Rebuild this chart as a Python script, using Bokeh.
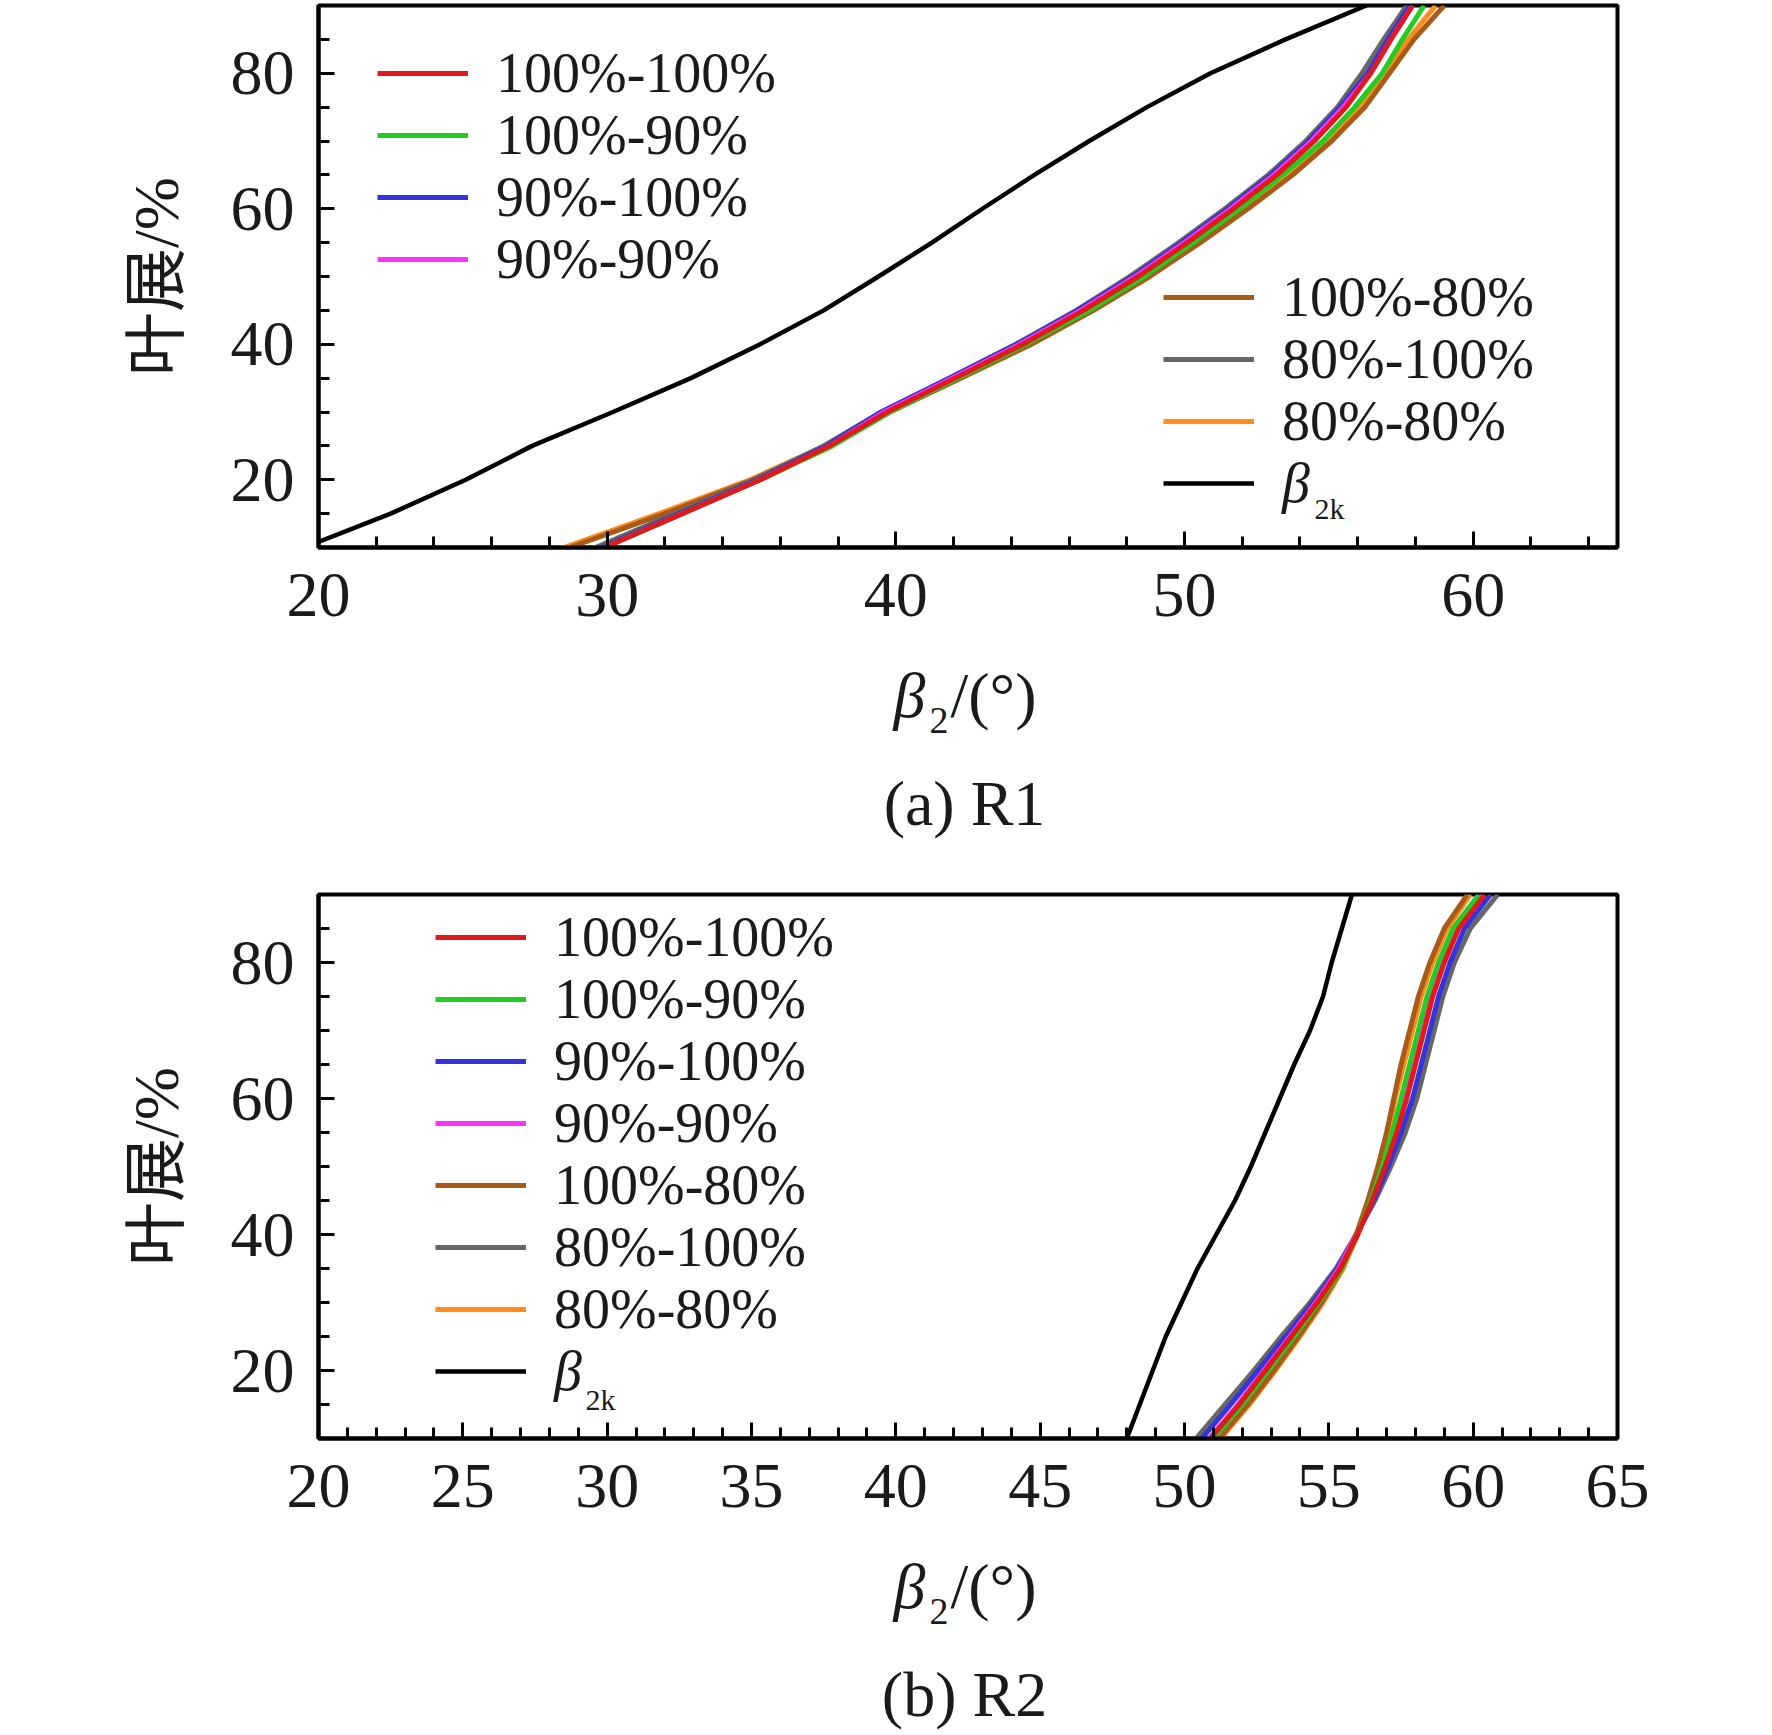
from bokeh.plotting import figure
from bokeh.layouts import column
from bokeh.models import Legend, LegendItem, Label, SingleIntervalTicker, Range1d
from bokeh.core.properties import value
from bokeh.embed import file_html
from bokeh.resources import INLINE

# spanwise position, %
span = [10, 15, 20, 25, 30, 35, 40, 45, 50, 55, 60, 65, 70, 75, 80, 85, 90]

# (a) R1, beta2 in degrees
r1_100_100 = [29.9, 32.6, 35.3, 37.7, 39.7, 42.05, 44.4, 46.5, 48.4, 50.1, 51.7, 53.2, 54.5, 55.6, 56.45, 57.15, 57.9]
r1_100_90 = [29.9, 32.6, 35.3, 37.8, 39.8, 42.15, 44.5, 46.7, 48.6, 50.3, 51.9, 53.4, 54.8, 55.9, 56.85, 57.55, 58.3]
r1_90_100 = [29.8, 32.5, 35.2, 37.6, 39.5, 41.85, 44.2, 46.3, 48.2, 49.9, 51.5, 53.0, 54.3, 55.4, 56.35, 57.05, 57.8]
r1_90_90 = [29.9, 32.6, 35.3, 37.7, 39.6, 41.95, 44.3, 46.4, 48.3, 50.0, 51.6, 53.1, 54.4, 55.5, 56.45, 57.15, 57.9]
r1_100_80 = [28.7, 32.0, 35.05, 37.65, 39.8, 42.25, 44.7, 46.85, 48.8, 50.55, 52.2, 53.75, 55.1, 56.25, 57.1, 57.95, 59.0]
r1_80_100 = [29.6, 32.35, 35.1, 37.5, 39.5, 41.85, 44.15, 46.25, 48.1, 49.8, 51.4, 52.9, 54.2, 55.3, 56.15, 56.9, 57.7]
r1_80_80 = [28.5, 31.8, 34.95, 37.55, 39.7, 42.15, 44.6, 46.75, 48.7, 50.45, 52.1, 53.65, 55.0, 56.1, 56.95, 57.75, 58.7]
r1_b2k = [19.5, 22.5, 25.1, 27.4, 30.2, 32.9, 35.3, 37.5, 39.4, 41.25, 43.0, 44.8, 46.7, 48.7, 50.9, 53.5, 56.3]

# (b) R2
r2_100_100 = [50.9, 51.9, 52.8, 53.7, 54.6, 55.4, 56.0, 56.5, 56.95, 57.35, 57.7, 58.0, 58.3, 58.6, 59.0, 59.5, 60.4]
r2_100_90 = [51.0, 52.0, 52.9, 53.8, 54.65, 55.45, 56.0, 56.45, 56.85, 57.2, 57.5, 57.8, 58.1, 58.4, 58.8, 59.3, 60.2]
r2_90_100 = [50.6, 51.6, 52.55, 53.5, 54.45, 55.3, 55.95, 56.55, 57.05, 57.5, 57.9, 58.2, 58.5, 58.8, 59.2, 59.7, 60.6]
r2_90_90 = [50.85, 51.85, 52.75, 53.65, 54.55, 55.35, 55.95, 56.45, 56.9, 57.3, 57.65, 57.95, 58.25, 58.55, 58.95, 59.45, 60.35]
r2_100_80 = [51.2, 52.2, 53.1, 53.95, 54.75, 55.45, 55.95, 56.35, 56.7, 57.0, 57.25, 57.5, 57.8, 58.1, 58.5, 59.0, 59.8]
r2_80_100 = [50.4, 51.4, 52.4, 53.35, 54.35, 55.25, 55.95, 56.6, 57.15, 57.65, 58.05, 58.35, 58.65, 58.95, 59.35, 59.9, 60.85]
r2_80_80 = [51.25, 52.25, 53.15, 54.0, 54.8, 55.5, 56.0, 56.4, 56.75, 57.05, 57.3, 57.6, 57.9, 58.2, 58.6, 59.1, 59.9]
r2_b2k = [48.0, 48.45, 48.9, 49.35, 49.9, 50.45, 51.1, 51.75, 52.3, 52.8, 53.3, 53.8, 54.35, 54.8, 55.1, 55.45, 55.8]

labels = ["100%-100%", "100%-90%", "90%-100%", "90%-90%", "100%-80%", "80%-100%", "80%-80%"]
colors = ["#e01a1a", "#22cc22", "#3333e0", "#ff33ff", "#a85a18", "#666666", "#ff8c1a"]

SERIF = "Liberation Serif"
INK = "#1a1a1a"
FS = "64px"
LEG_FS = "56px"
LEFT, FRAME_W, RIGHT = 318, 1299, 155


def base_fig(top, frame_h, x_step):
    p = figure(frame_width=FRAME_W, frame_height=frame_h,
               min_border_left=LEFT, min_border_right=RIGHT,
               min_border_top=top, min_border_bottom=108,
               x_range=Range1d(20, 65), y_range=Range1d(10, 90),
               output_backend="svg", toolbar_location=None)
    p.grid.visible = False
    p.outline_line_color = "black"
    p.outline_line_width = 4
    p.outline_line_alpha = 1
    p.xaxis.ticker = SingleIntervalTicker(interval=x_step, num_minor_ticks=5)
    p.yaxis.ticker = SingleIntervalTicker(interval=20, num_minor_ticks=4)
    for ax in p.axis:
        ax.axis_line_width = 4
        ax.axis_line_color = "black"
        ax.major_tick_in = 16
        ax.major_tick_out = 0
        ax.minor_tick_in = 11
        ax.minor_tick_out = 0
        ax.major_tick_line_width = 3
        ax.minor_tick_line_width = 3
        ax.major_label_text_font = SERIF
        ax.major_label_text_font_size = FS
        ax.major_label_text_color = INK
    p.xaxis.major_label_standoff = 26
    p.yaxis.major_label_standoff = 24
    p.yaxis.axis_label = "叶展/%"
    p.yaxis.axis_label_text_font = "Liberation Serif, Noto Sans CJK SC"
    p.yaxis.axis_label_text_font_size = FS
    p.yaxis.axis_label_text_font_style = "normal"
    p.yaxis.axis_label_text_color = INK
    p.yaxis.axis_label_standoff = 36
    return p


def legend_rows(p, entries, x, ys):
    # one legend per row so the row pitch follows the reference
    for (label, rend, italic), y in zip(entries, ys):
        p.add_layout(Legend(items=[LegendItem(label=label, renderers=[rend])],
                            location=(x, y), padding=0, margin=0, spacing=0,
                            glyph_width=91, glyph_height=40, label_height=40, label_standoff=28,
                            label_text_font=SERIF, label_text_font_size=LEG_FS, label_text_color=INK,
                            label_text_font_style="italic" if italic else "normal",
                            background_fill_alpha=0, border_line_alpha=0))


def sub_label(p, x, y, text):
    p.add_layout(Label(x=x, y=y, x_units="screen", y_units="screen", text=text,
                       text_font=SERIF, text_font_size="30px", text_color=INK,
                       text_align="left", text_baseline="middle"))


def caption_fig(h, y_title, y_sub, y_cap, caption):
    # strip under each chart holding the x title and the caption (data units = pixels)
    t = figure(frame_width=FRAME_W, frame_height=h,
               min_border_left=LEFT, min_border_right=RIGHT, min_border_top=0, min_border_bottom=0,
               x_range=Range1d(LEFT, LEFT + FRAME_W), y_range=Range1d(0, h),
               x_axis_type=None, y_axis_type=None,
               output_backend="svg", toolbar_location=None)
    t.outline_line_color = None
    common = dict(text_font=value(SERIF), text_color=INK, text_baseline="middle")
    t.text(x=[893], y=[y_title], text=["β"], text_font_size=value("64px"),
           text_font_style="italic", text_align="left", **common)
    t.text(x=[929], y=[y_sub], text=["2"], text_font_size=value("38px"),
           text_align="left", **common)
    t.text(x=[950], y=[y_title], text=["/(°)"], text_font_size=value("64px"),
           text_align="left", **common)
    t.text(x=[964], y=[y_cap], text=[caption], text_font_size=value("64px"),
           text_align="center", **common)
    return t


# ---- (a) R1 ----
p1 = base_fig(5, 542, 10)
r1 = [r1_100_100, r1_100_90, r1_90_100, r1_90_90, r1_100_80, r1_80_100, r1_80_80]
rend1 = {}
for i in [6, 4, 5, 2, 3, 1, 0]:
    rend1[i] = p1.line(r1[i], span, line_color=colors[i], line_width=5, line_join="round")
b1 = p1.line(r1_b2k, span, line_color="black", line_width=4.5, line_join="round")

legend_rows(p1, [(labels[i], rend1[i], False) for i in range(4)], 59, [442, 380, 318, 256])
legend_rows(p1, [(labels[i], rend1[i], False) for i in range(4, 7)] + [("β", b1, True)],
            845, [218, 156, 94, 32])
sub_label(p1, 996, 39, "2k")
t1 = caption_fig(215, 175, 150, 67, "(a) R1")

# ---- (b) R2 ----
p2 = base_fig(24, 544, 5)
r2 = [r2_100_100, r2_100_90, r2_90_100, r2_90_90, r2_100_80, r2_80_100, r2_80_80]
rend2 = {}
for i in [5, 2, 3, 6, 4, 1, 0]:
    rend2[i] = p2.line(r2[i], span, line_color=colors[i], line_width=5, line_join="round")
b2 = p2.line(r2_b2k, span, line_color="black", line_width=4.5, line_join="round")

legend_rows(p2, [(labels[i], rend2[i], False) for i in range(7)] + [("β", b2, True)],
            117, [469, 407, 345, 283, 221, 159, 97, 35])
sub_label(p2, 267, 39, "2k")
t2 = caption_fig(189, 149, 124, 41, "(b) R2")

layout = column(p1, t1, p2, t2)
open("out.html", "w").write(file_html(layout, INLINE))
